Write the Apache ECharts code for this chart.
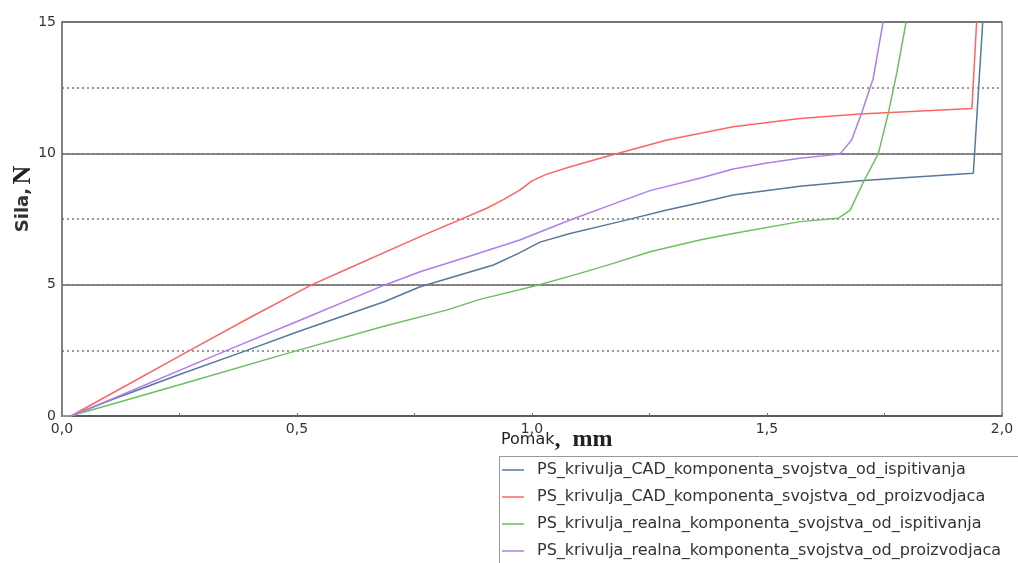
<!DOCTYPE html>
<html><head><meta charset="utf-8">
<script src="https://cdn.jsdelivr.net/npm/echarts@6/dist/echarts.min.js"></script>
<style>html,body{margin:0;padding:0;background:#fff}#c{width:1018px;height:563px}</style>
</head><body><div id="c"></div>
<script>
const seriesNames = [
  'PS_krivulja_CAD_komponenta_svojstva_od_ispitivanja',
  'PS_krivulja_CAD_komponenta_svojstva_od_proizvodjaca',
  'PS_krivulja_realna_komponenta_svojstva_od_ispitivanja',
  'PS_krivulja_realna_komponenta_svojstva_od_proizvodjaca'
];
const cadIspitivanja = [[0,0],[0.02,0.01],[0.1,0.58],[0.25,1.58],[0.389,2.47],[0.5,3.2],[0.687,4.36],[0.762,4.92],[0.918,5.75],[0.97,6.18],[1.017,6.62],[1.081,6.95],[1.187,7.40],[1.287,7.84],[1.357,8.12],[1.428,8.41],[1.57,8.75],[1.698,8.96],[1.8,9.08],[1.939,9.24],[1.959,15]];
const cadProizvodjaca = [[0,0],[0.02,0.01],[0.1,0.8],[0.269,2.47],[0.4,3.75],[0.531,4.99],[0.602,5.56],[0.762,6.83],[0.904,7.91],[0.94,8.25],[0.974,8.6],[1.0,8.95],[1.03,9.2],[1.08,9.48],[1.145,9.81],[1.287,10.51],[1.428,11.01],[1.57,11.33],[1.698,11.5],[1.85,11.63],[1.936,11.71],[1.946,15]];
const realnaIspitivanja = [[0,0],[0.02,0.01],[0.1,0.42],[0.25,1.19],[0.496,2.47],[0.687,3.43],[0.818,4.03],[0.889,4.44],[1.01,4.97],[1.1,5.42],[1.173,5.81],[1.251,6.25],[1.357,6.70],[1.428,6.95],[1.57,7.40],[1.652,7.53],[1.677,7.84],[1.705,8.9],[1.737,10.0],[1.758,11.52],[1.776,13.05],[1.796,15]];
const realnaProizvodjaca = [[0,0],[0.02,0.01],[0.1,0.6],[0.347,2.47],[0.5,3.6],[0.687,4.99],[0.762,5.49],[0.87,6.1],[0.974,6.70],[1.081,7.46],[1.187,8.16],[1.251,8.58],[1.357,9.05],[1.428,9.40],[1.5,9.63],[1.57,9.81],[1.655,9.97],[1.68,10.51],[1.701,11.52],[1.726,12.85],[1.747,15]];
const colors = ['#56789c','#ff6464','#6cc060','#b07ee8'];
const xTicks = [0, 0.5, 1.0, 1.5, 2.0];
const yTicks = [0, 5, 10, 15];

const chart = echarts.init(document.getElementById('c'));
const allData = [cadIspitivanja, cadProizvodjaca, realnaIspitivanja, realnaProizvodjaca];
chart.setOption({
  animation: false,
  color: colors,
  grid: {left: 62, right: 16, top: 22, bottom: 147, show: true, borderColor: '#888', borderWidth: 1.5, backgroundColor: 'transparent'},
  xAxis: {
    type: 'value', min: 0, max: 2, interval: 0.25,
    axisLine: {lineStyle: {color: '#555', width: 1.5}},
    axisTick: {inside: true, length: 3, lineStyle: {color: '#777'}},
    splitLine: {show: false},
    axisLabel: {color: '#333', fontFamily: 'DejaVu Sans', fontSize: 14, margin: 6,
      formatter: v => xTicks.some(t => Math.abs(t - v) < 1e-9) ? v.toFixed(1).replace('.', ',') : ''}
  },
  yAxis: [{
    type: 'value', min: 0, max: 15, interval: 5,
    axisLine: {show: true, lineStyle: {color: '#777', width: 1.5}},
    axisTick: {show: false},
    splitLine: {show: true, lineStyle: {color: '#666', width: 1.5}},
    axisLabel: {color: '#333', fontFamily: 'DejaVu Sans', fontSize: 14, margin: 6,
      formatter: v => yTicks.includes(v) ? String(v) : ''}
  }, {
    type: 'value', min: 0, max: 15, interval: 2.5, position: 'left',
    axisLine: {show: false}, axisTick: {show: false}, axisLabel: {show: false},
    splitLine: {show: true, lineStyle: {color: '#777', width: 1.5, type: [2, 3]}}
  }],
  legend: {
    orient: 'vertical', left: 502, top: 462, itemGap: 11, padding: 0,
    icon: 'rect', itemWidth: 22, itemHeight: 1.5,
    textStyle: {fontFamily: 'DejaVu Sans', fontSize: 16, color: '#333', lineHeight: 16, padding: [0, 0, 0, 8]},
    data: seriesNames
  },
  graphic: [
    {type: 'rect', left: 497, top: 454, shape: {width: 600, height: 200}, style: {fill: 'none', stroke: '#999', lineWidth: 1}, silent: true},
    {type: 'text', left: 501, top: 428, style: {rich: {
      a: {fontFamily: 'DejaVu Sans', fontSize: 16, fill: '#222'},
      b: {fontFamily: 'Liberation Serif', fontWeight: 'bold', fontSize: 24, fill: '#222'}
    }, text: '{a|Pomak}{b|,  mm}'}},
    {type: 'text', x: 23, y: 199, rotation: Math.PI / 2, style: {rich: {
      a: {fontFamily: 'DejaVu Sans', fontWeight: 'bold', fontSize: 18, fill: '#333'},
      b: {fontFamily: 'Liberation Serif', fontWeight: 'bold', fontSize: 26, fill: '#222'}
    }, text: '{a|Sila,} {b|N}', align: 'center', verticalAlign: 'middle'}}
  ],
  series: seriesNames.map((n, i) => ({
    name: n, type: 'line', data: allData[i], showSymbol: false, symbol: 'none', smooth: false,
    yAxisIndex: 0, clip: true, lineStyle: {width: 1.5, color: colors[i]}
  }))
});
</script></body></html>
